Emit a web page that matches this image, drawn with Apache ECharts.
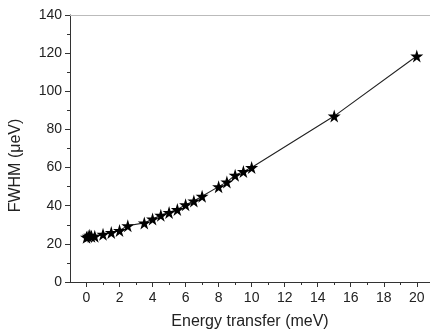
<!DOCTYPE html>
<html>
<head>
<meta charset="utf-8">
<script src="https://cdn.jsdelivr.net/npm/echarts@6/dist/echarts.min.js"></script>
<style>
  html, body { margin: 0; padding: 0; background: #fff; }
  #chart { width: 430px; height: 335px; }
</style>
</head>
<body>
<div id="chart"></div>
<script>
// Energy transfer (meV) vs FWHM (ueV)
const energy = [0, 0.1, 0.2, 0.3, 0.5, 1, 1.5, 2, 2.5, 3.5, 4, 4.5, 5, 5.5, 6, 6.5, 7, 8, 8.5, 9, 9.5, 10, 15, 20];
const fwhm = [23.5, 24, 24.5, 24, 24, 25, 26, 27, 29.5, 31, 33, 35, 36.5, 38, 40.5, 42.5, 45, 50, 52.5, 56, 58, 60, 87, 118.5];
const xMajorTicks = [0, 2, 4, 6, 8, 10, 12, 14, 16, 18, 20];
const xMinorTicks = [1, 3, 5, 7, 9, 11, 13, 15, 17, 19];

const starPath = 'path://M50,0 L61,35 L98,35 L68,57 L79,91 L50,70 L21,91 L32,57 L2,35 L39,35 Z';
const axisColor = '#333';
const font = 'Liberation Sans, Arial, sans-serif';

const chart = echarts.init(document.getElementById('chart'));

chart.setOption({
    animation: false,
    grid: { left: 68, top: 15, right: 0, bottom: 53 },
    xAxis: [
        {
            type: 'value',
            min: -1,
            max: 20.8,
            name: 'Energy transfer (meV)',
            nameLocation: 'middle',
            nameGap: 32,
            nameTextStyle: { fontFamily: font, fontSize: 16, color: '#222' },
            axisLine: { show: true, onZero: false, lineStyle: { color: axisColor, width: 1 } },
            axisTick: { show: true, inside: false, length: 5, customValues: xMajorTicks, lineStyle: { color: axisColor } },
            axisLabel: { customValues: xMajorTicks, fontFamily: font, fontSize: 14, color: '#222', margin: 9 },
            splitLine: { show: false }
        },
        {
            type: 'value',
            min: -1,
            max: 20.8,
            position: 'bottom',
            axisLine: { show: false, onZero: false },
            axisTick: { show: true, length: 3, customValues: xMinorTicks, lineStyle: { color: axisColor } },
            axisLabel: { show: false },
            splitLine: { show: false }
        },
        {
            type: 'value',
            min: -1,
            max: 20.8,
            position: 'top',
            axisLine: { show: true, onZero: false, lineStyle: { color: '#bbb', width: 1 } },
            axisTick: { show: false },
            axisLabel: { show: false },
            splitLine: { show: false }
        }
    ],
    yAxis: {
        type: 'value',
        min: 0,
        max: 140,
        interval: 20,
        name: 'FWHM (\u03bceV)',
        nameLocation: 'middle',
        nameGap: 46,
        nameTextStyle: { fontFamily: font, fontSize: 16, color: '#222', padding: [0, 0, 0, -34] },
        axisLine: { show: true, onZero: false, lineStyle: { color: axisColor, width: 1 } },
        axisTick: { show: true, length: 5, lineStyle: { color: axisColor } },
        minorTick: { show: true, splitNumber: 2, length: 3, lineStyle: { color: axisColor } },
        axisLabel: { fontFamily: font, fontSize: 14, color: '#222', margin: 8 },
        splitLine: { show: false }
    },
    series: [{
        type: 'line',
        data: energy.map((e, i) => [e, fwhm[i]]),
        symbol: starPath,
        symbolSize: 13,
        showAllSymbol: true,
        lineStyle: { color: '#222', width: 1.1 },
        itemStyle: { color: '#000' }
    }]
});

window.addEventListener('resize', () => chart.resize());
</script>
</body>
</html>
